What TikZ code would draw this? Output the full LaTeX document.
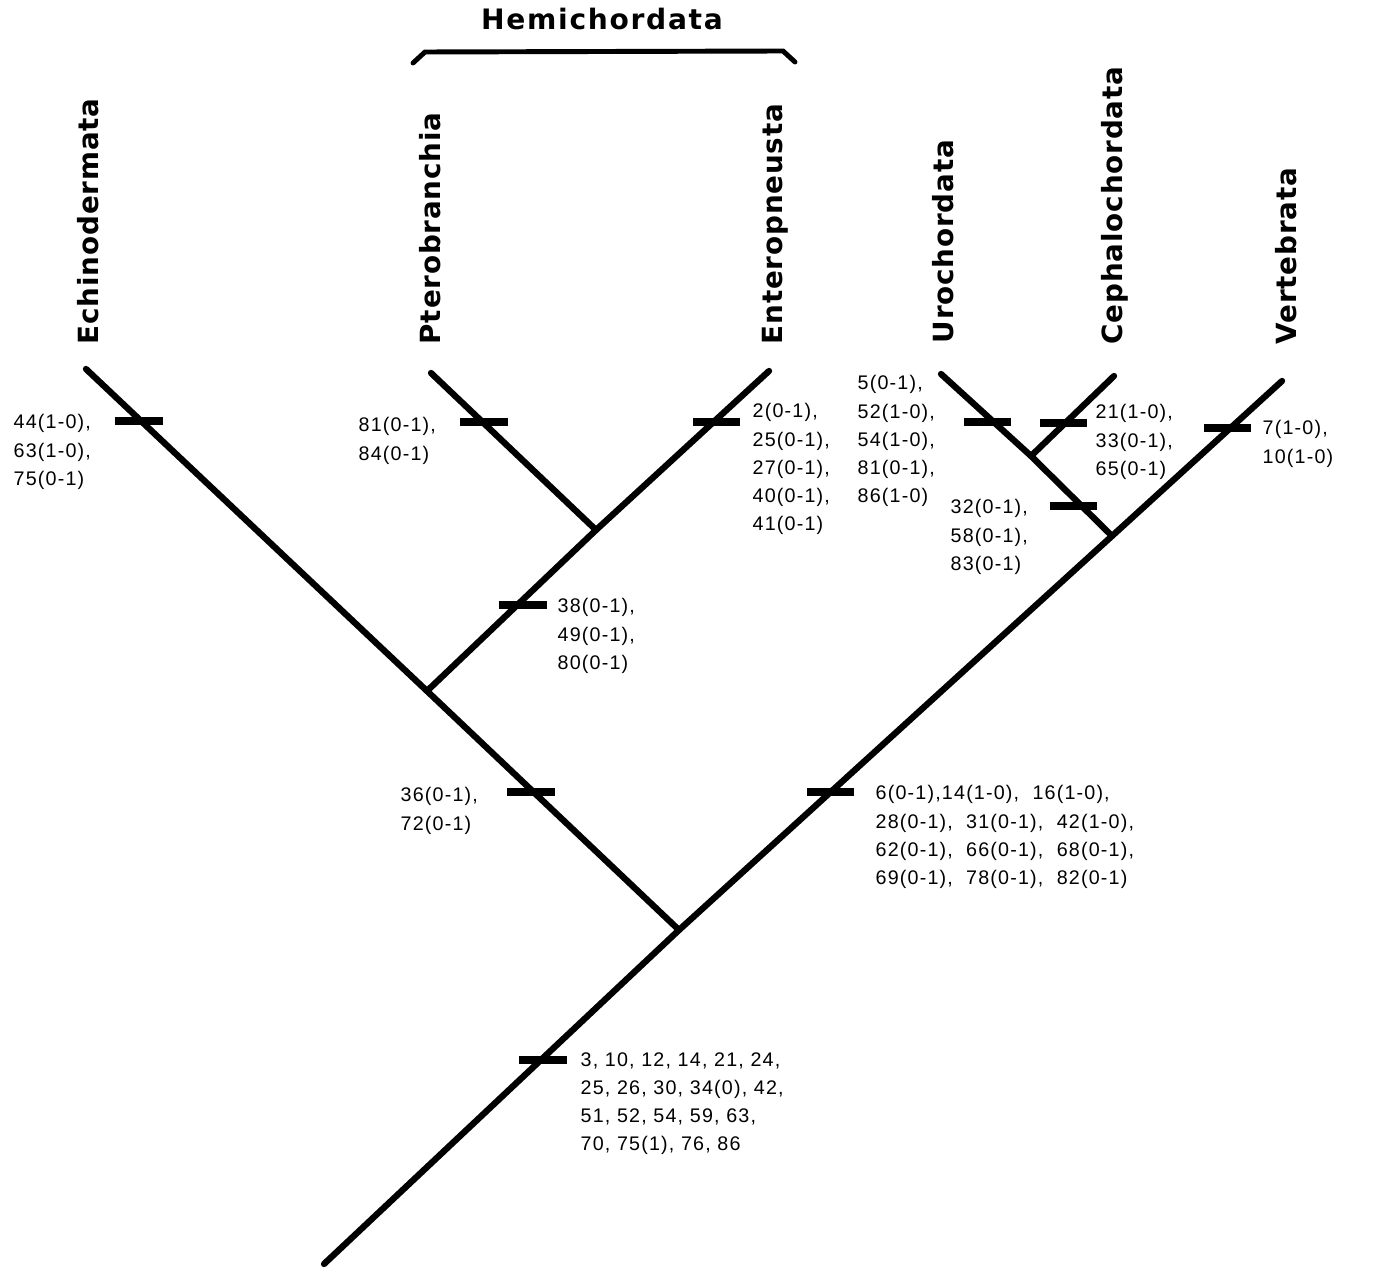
\documentclass[tikz,border=0pt]{standalone}
\usepackage{fontspec}
\usepackage{tikz}
\usetikzlibrary{positioning}
\newfontfamily\chfont{Liberation Sans}[LetterSpace=6]
\newfontfamily\txfont{DejaVu Sans}[LetterSpace=3]
\newfontfamily\hmfont{DejaVu Sans}[LetterSpace=6]
\tikzset{
  br/.style={line width=1.8pt,line cap=round},
  tk/.style={fill=black,inner sep=0pt,minimum width=0.47cm,minimum height=0.085cm},
  tx/.style={rotate=90,anchor=base west,inner sep=0pt,font=\txfont\bfseries\fontsize{7.9}{9}\selectfont},
  ch/.style={anchor=north west,align=left,inner sep=0pt,font=\chfont\fontsize{5.6}{7.97}\selectfont}
}
\begin{document}
\begin{tikzpicture}[x=0.01cm,y=-0.01cm]
\useasboundingbox (0,0) rectangle (1377,1267);
\coordinate (root) at (324,1264);
\coordinate (j0) at (679,930);
\coordinate (jeh) at (427,691);
\coordinate (jh) at (596,530);
\coordinate (jc) at (1112,536);
\coordinate (juc) at (1031,456);
\coordinate (echi) at (86,369);
\coordinate (ptero) at (431,373);
\coordinate (entero) at (769,371);
\coordinate (uro) at (941,374);
\coordinate (ceph) at (1114,376);
\coordinate (vert) at (1282,381);
\draw[br] (root) -- (j0) -- (jc) -- (vert);
\draw[br] (j0) -- (jeh) -- (echi);
\draw[br] (jeh) -- (jh) -- (entero);
\draw[br] (jh) -- (ptero);
\draw[br] (jc) -- (juc) -- (uro);
\draw[br] (juc) -- (ceph);
\foreach \n/\x/\y in {techi/139/421,tptero/484/422,tentero/716/422,th/523/605,teh/531/792,
  tc/830/792,troot/543/1060,turo/987/422,tceph/1063/423,tuc/1073/506,tvert/1227/428}
  \node[tk] (\n) at (\x,\y) {};
\node[tx] (lechi) at (98,345) {Echinodermata};
\node[tx] (lptero) at (440,345) {Pterobranchia};
\node[tx] (lentero) at (782,345) {Enteropneusta};
\node[tx] (luro) at (953,344) {Urochordata};
\node[tx] (lceph) at (1122,345) {Cephalochordata};
\node[tx] (lvert) at (1296,345) {Vertebrata};
\node[font=\hmfont\bfseries\fontsize{8}{9}\selectfont,anchor=base,inner sep=0pt] (hemi) at (602,30) {Hemichordata};
\draw[line width=1.4pt,line cap=round] (413,63) -- (425,52) -- (783,51) -- (795,62);
\node[ch] (cechi) at (13,414) {44(1-0),\\63(1-0),\\75(0-1)};
\node[ch] (cptero) at (358,417) {81(0-1),\\84(0-1)};
\node[ch] (centero) at (752,403) {2(0-1),\\25(0-1),\\27(0-1),\\40(0-1),\\41(0-1)};
\node[ch] (curo) at (857,375) {5(0-1),\\52(1-0),\\54(1-0),\\81(0-1),\\86(1-0)};
\node[ch] (cceph) at (1095,404) {21(1-0),\\33(0-1),\\65(0-1)};
\node[ch] (cvert) at (1262,420) {7(1-0),\\10(1-0)};
\node[ch] (cuc) at (950,499) {32(0-1),\\58(0-1),\\83(0-1)};
\node[ch] (ch) at (557,598) {38(0-1),\\49(0-1),\\80(0-1)};
\node[ch] (ceh) at (400,787) {36(0-1),\\72(0-1)};
\node[ch] (cc) at (875,785) {6(0-1),14(1-0),~ 16(1-0),\\28(0-1),~ 31(0-1),~ 42(1-0),\\62(0-1),~ 66(0-1),~ 68(0-1),\\69(0-1),~ 78(0-1),~ 82(0-1)};
\node[ch] (croot) at (580,1052) {3, 10, 12, 14, 21, 24,\\25, 26, 30, 34(0), 42,\\51, 52, 54, 59, 63,\\70, 75(1), 76, 86};
\end{tikzpicture}
\end{document}
